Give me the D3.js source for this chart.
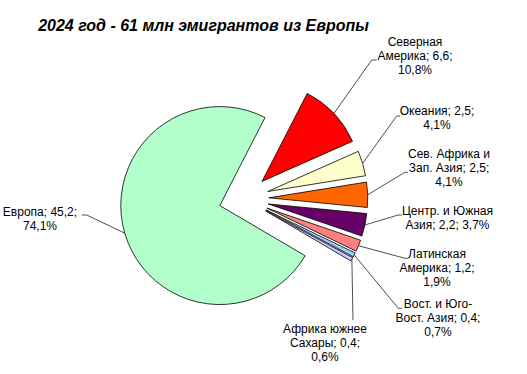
<!DOCTYPE html>
<meta charset="utf-8">
<style>
  body { margin: 0; background: #fff; }
  svg { font-family: "Liberation Sans", Arial, sans-serif; }
</style>
<svg width="527" height="374"></svg>
<script src="https://cdn.jsdelivr.net/npm/d3@7"></script>
<script>
// data (млн чел. и доля)
var categories = ["Европа", "Северная Америка", "Океания", "Сев. Африка и Зап. Азия",
    "Центр. и Южная Азия", "Латинская Америка", "Вост. и Юго-Вост. Азия", "Африка южнее Сахары"];
var values = [45.2, 6.6, 2.5, 2.5, 2.2, 1.2, 0.4, 0.4];
var percents = [74.1, 10.8, 4.1, 4.1, 3.7, 1.9, 0.7, 0.6];
var colors = ["#B3FFCC", "#FF0000", "#FFFFCC", "#FF6600", "#660066", "#FF8080", "#99CCFF", "#CCCCFF"];

var fmt = function(v) { return String(v).replace(".", ","); };

// how each label wraps, and where it sits
var labelLines = [
    ["Европа; " + fmt(values[0]) + ";", fmt(percents[0]) + "%"],
    ["Северная", "Америка; " + fmt(values[1]) + ";", fmt(percents[1]) + "%"],
    ["Океания; " + fmt(values[2]) + ";", fmt(percents[2]) + "%"],
    ["Сев. Африка и", "Зап. Азия; " + fmt(values[3]) + ";", fmt(percents[3]) + "%"],
    ["Центр. и Южная", "Азия; " + fmt(values[4]) + "; " + fmt(percents[4]) + "%"],
    ["Латинская", "Америка; " + fmt(values[5]) + ";", fmt(percents[5]) + "%"],
    ["Вост. и Юго-", "Вост. Азия; " + fmt(values[6]) + ";", fmt(percents[6]) + "%"],
    ["Африка южнее", "Сахары; " + fmt(values[7]) + ";", fmt(percents[7]) + "%"]
];
// text centre x, first baseline y, leader elbow, leader end
var labelPos = [
    {x: 40, y: 216, ex: 86.7, ey: 215, hx: 81.7},
    {x: 415, y: 46, ex: 371.7, ey: 60, hx: 376.7},
    {x: 437, y: 115, ex: 396.7, ey: 116, hx: 400},
    {x: 449, y: 158, ex: 405, ey: 172.3, hx: 408},
    {x: 447.5, y: 215, ex: 398.3, ey: 215, hx: 401.7},
    {x: 437, y: 258, ex: 405, ey: 258.3, hx: 408.3},
    {x: 438, y: 308, ex: 398.3, ey: 308.3, hx: 401.7},
    {x: 325, y: 333, ex: 353, ey: 320, hx: 353}
];

var svg = d3.select("svg");
var cx = 243.8, cy = 198.6, radius = 99, explode = 25;
var lineH = 14;

svg.append("text")
    .attr("x", 203.5)
    .attr("y", 31)
    .attr("text-anchor", "middle")
    .style("font-size", "16px")
    .style("font-weight", "bold")
    .style("font-style", "italic")
    .text("2024 год - 61 млн эмигрантов из Европы");

var startDeg = 120.44;
var pie = d3.pie()
    .sort(null)
    .value(function(d) { return d; })
    .startAngle(startDeg * Math.PI / 180)
    .endAngle(startDeg * Math.PI / 180 + 2 * Math.PI);

var arcs = pie(percents);
var arc = d3.arc().innerRadius(0).outerRadius(radius);

function dirOf(d) {
    var a = (d.startAngle + d.endAngle) / 2;
    return [Math.sin(a), -Math.cos(a)];
}

var g = svg.append("g").attr("transform", "translate(" + cx + "," + cy + ")");

g.selectAll("path")
    .data(arcs)
    .enter().append("path")
    .attr("d", arc)
    .attr("transform", function(d) {
        var v = dirOf(d);
        return "translate(" + (v[0] * explode) + "," + (v[1] * explode) + ")";
    })
    .attr("fill", function(d, i) { return colors[i]; })
    .attr("stroke", "#000")
    .attr("stroke-width", 0.8);

// leader lines
arcs.forEach(function(d, i) {
    var v = dirOf(d);
    var p = labelPos[i];
    var sx = cx + v[0] * (radius + explode), sy = cy + v[1] * (radius + explode);
    svg.append("polyline")
        .attr("points", [[sx, sy], [p.ex, p.ey], [p.hx, p.ey]].map(function(q) { return q.join(","); }).join(" "))
        .attr("fill", "none")
        .attr("stroke", "#222")
        .attr("stroke-width", 0.8);
});

// labels
labelLines.forEach(function(lines, i) {
    var p = labelPos[i];
    var t = svg.append("text")
        .attr("text-anchor", "middle")
        .style("font-size", "12px")
        .attr("fill", "#000");
    lines.forEach(function(s, k) {
        t.append("tspan")
            .attr("x", p.x)
            .attr("y", p.y + k * lineH)
            .text(s);
    });
});
</script>
